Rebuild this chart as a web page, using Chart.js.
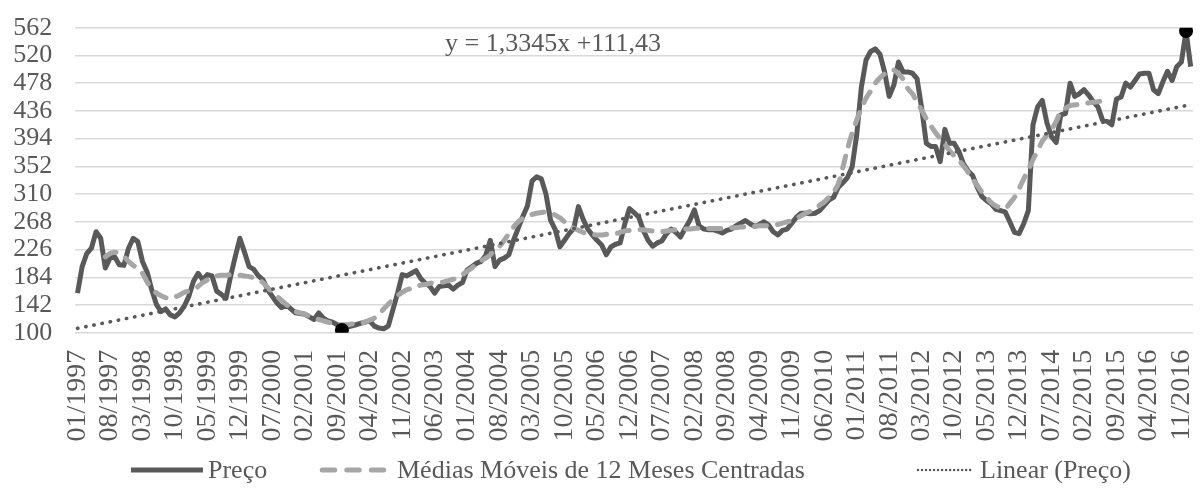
<!DOCTYPE html>
<html><head><meta charset="utf-8">
<script src="https://cdn.jsdelivr.net/npm/chart.js@4.4.1/dist/chart.umd.min.js"></script>
<style>html,body{margin:0;padding:0;background:#fff;}#wrap{width:1200px;height:489px;position:relative;}</style>
</head><body><div id="wrap"><canvas id="c" width="1200" height="489"></canvas></div>
<script>
// ---- data ----
const startYear = 1997, startMonth = 1, monthCount = 241;
const tickLabels = ['01/1997','08/1997','03/1998','10/1998','05/1999','12/1999','07/2000','02/2001','09/2001','04/2002','11/2002','06/2003','01/2004','08/2004','03/2005','10/2005','05/2006','12/2006','07/2007','02/2008','09/2008','04/2009','11/2009','06/2010','01/2011','08/2011','03/2012','10/2012','05/2013','12/2013','07/2014','02/2015','09/2015','04/2016','11/2016'];
const preco = [
160,200,220,228,253,243,198,213,215,203,
202,228,243,238,208,192,165,143,132,136,
127,124,130,140,155,178,190,180,188,186,
163,158,152,185,215,243,222,200,196,186,
180,165,155,145,138,142,136,130,129,128,
124,120,130,122,118,116,112,104,108,110,
112,114,116,118,110,107,106,110,135,160,
188,186,190,194,182,175,170,160,170,171,
172,166,172,176,195,200,205,208,217,240,
200,210,213,218,240,258,276,292,330,336,
333,310,270,256,230,240,250,258,291,272,
257,248,240,233,218,230,234,236,265,288,
282,275,255,240,231,236,239,250,257,252,
245,258,270,286,262,257,256,256,254,251,
255,257,262,266,270,265,261,264,268,263,
253,248,255,257,266,275,281,281,280,281,
285,293,301,305,320,327,335,351,400,472,
513,526,530,522,495,458,475,510,495,495,
493,485,440,387,382,382,359,408,387,387,
375,356,345,338,320,306,300,295,287,285,
283,268,252,250,265,285,415,442,452,418,
397,388,430,432,478,458,462,468,460,450,
442,422,420,415,454,457,478,472,482,492,
493,493,468,462,480,496,482,503,510,557,
503];
const mediaMovel = [
null,null,null,null,null,null,215,220,222,220,
215,208,202,197,190,177,167,160,156,153,
152,154,157,161,163,165,170,176,180,184,
186,187,187,188,188,187,186,185,183,180,
176,168,162,155,149,143,137,132,130,128,
125,122,120,118,116,114,113,112,112,113,
113,114,116,119,122,128,136,143,150,156,
161,165,167,170,172,173,175,176,176,177,
179,181,184,188,193,198,204,209,213,218,
225,231,240,250,260,268,273,277,279,281,
282,283,282,278,274,268,262,258,255,252,
250,249,248,248,249,249,250,252,254,255,
256,256,256,255,254,253,253,254,255,256,
256,257,257,258,258,258,258,258,258,258,
258,259,259,260,260,261,261,262,262,262,
263,264,266,268,270,273,277,281,284,288,
293,298,305,313,325,350,378,402,422,440,
455,466,478,486,492,496,498,492,484,470,
462,449,437,424,413,403,394,385,376,368,
361,353,343,333,323,313,305,297,292,289,
288,296,305,318,333,347,362,376,390,399,
408,420,435,440,444,445,446,447,448,449,
450,451,452,null,null,null,null,null,null,null,
null,null,null,null,null,null,null,null,null,null,
null];
const trendStart = 106.6, trendEnd = 445.4;
const yMin = 100, yMax = 562, yStep = 42;
const seriesNames = ['Preço', 'Médias Móveis de 12 Meses Centradas', 'Linear (Preço)'];
const equationText = 'y = 1,3345x +111,43';

// ---- derived structures ----
const categories = [];
for (let k = 0; k < monthCount; k++) {
  const m = (startMonth - 1 + k) % 12 + 1, y = startYear + Math.floor((startMonth - 1 + k) / 12);
  categories.push(String(m).padStart(2, '0') + '/' + y);
}
const tickSet = new Set(tickLabels);
const trend = categories.map((_, i) => i === 0 ? trendStart : (i === monthCount - 1 ? trendEnd : null));
let minIdx = 0, maxIdx = 0;
preco.forEach((v, i) => { if (v < preco[minIdx]) minIdx = i; if (v > preco[maxIdx]) maxIdx = i; });
const extremos = preco.map((v, i) => (i === minIdx || i === maxIdx) ? v : null);

const FONT = "'Liberation Serif','Times New Roman',serif";
const TXT = '#595959';
Chart.defaults.font.family = FONT;
Chart.defaults.color = TXT;

const legendPlugin = {
  id: 'excelLegend',
  afterDraw(chart) {
    const ctx = chart.ctx;
    ctx.save();
    const ly = 470;
    ctx.font = '26px ' + FONT;
    ctx.fillStyle = TXT;
    ctx.textBaseline = 'middle';
    ctx.textAlign = 'left';
    ctx.lineWidth = 5; ctx.strokeStyle = '#595959'; ctx.lineCap = 'butt'; ctx.setLineDash([]);
    ctx.beginPath(); ctx.moveTo(131, ly); ctx.lineTo(203, ly); ctx.stroke();
    ctx.fillText(seriesNames[0], 208, ly + 1);
    ctx.strokeStyle = '#A6A6A6'; ctx.lineCap = 'round'; ctx.setLineDash([12.5, 12]);
    ctx.beginPath(); ctx.moveTo(322.25, ly); ctx.lineTo(384, ly); ctx.stroke();
    ctx.fillText(seriesNames[1], 397, ly + 1);
    ctx.strokeStyle = '#595959'; ctx.lineWidth = 2.5; ctx.setLineDash([0.01, 4]);
    ctx.beginPath(); ctx.moveTo(918, ly); ctx.lineTo(972, ly); ctx.stroke();
    ctx.setLineDash([]);
    ctx.fillText(seriesNames[2], 980, ly + 1);
    ctx.textBaseline = 'alphabetic';
    ctx.fillText(equationText, 445, 51);
    ctx.restore();
  }
};

new Chart(document.getElementById('c'), {
  type: 'line',
  data: {
    labels: categories,
    datasets: [
      { label: 'extremos', data: extremos, showLine: false, pointRadius: 7, pointHoverRadius: 7,
        pointBackgroundColor: '#000', pointBorderWidth: 0, order: 0 },
      { label: seriesNames[2], data: trend, spanGaps: true, borderColor: '#595959', borderWidth: 3.6,
        borderDash: [0.4, 7.9], borderCapStyle: 'round', pointRadius: 0, tension: 0, order: 1 },
      { label: seriesNames[1], data: mediaMovel, borderColor: '#A6A6A6', borderWidth: 5,
        borderDash: [12, 11], borderCapStyle: 'round', pointRadius: 0, tension: 0.3, order: 2 },
      { label: seriesNames[0], data: preco, borderColor: '#595959', borderWidth: 5,
        borderJoinStyle: 'round', pointRadius: 0, tension: 0, order: 3 }
    ]
  },
  options: {
    responsive: false,
    animation: false,
    devicePixelRatio: 1,
    layout: { padding: { top: 27.7, right: 5.4, bottom: 0, left: 0 } },
    plugins: { legend: { display: false }, tooltip: { enabled: false } },
    scales: {
      x: {
        type: 'category',
        offset: true,
        grid: { display: false, drawTicks: false },
        border: { display: false },
        afterFit(s) { s.height = 156.3; s.paddingLeft = 0; s.paddingRight = 0; },
        ticks: {
          autoSkip: false, minRotation: 90, maxRotation: 90, padding: 17,
          font: { size: 28, family: FONT }, color: TXT,
          callback(v, i) { const l = categories[i]; return tickSet.has(l) ? l : ''; }
        }
      },
      y: {
        min: yMin, max: yMax,
        grid: { color: '#D9D9D9', lineWidth: 1.4, drawTicks: false },
        border: { display: false },
        afterFit(s) { s.width = 75.2; s.paddingTop = 0; s.paddingBottom = 0; },
        ticks: { autoSkip: false, stepSize: yStep, padding: 23, font: { size: 26, family: FONT }, color: TXT }
      }
    }
  },
  plugins: [legendPlugin]
});
</script></body></html>
